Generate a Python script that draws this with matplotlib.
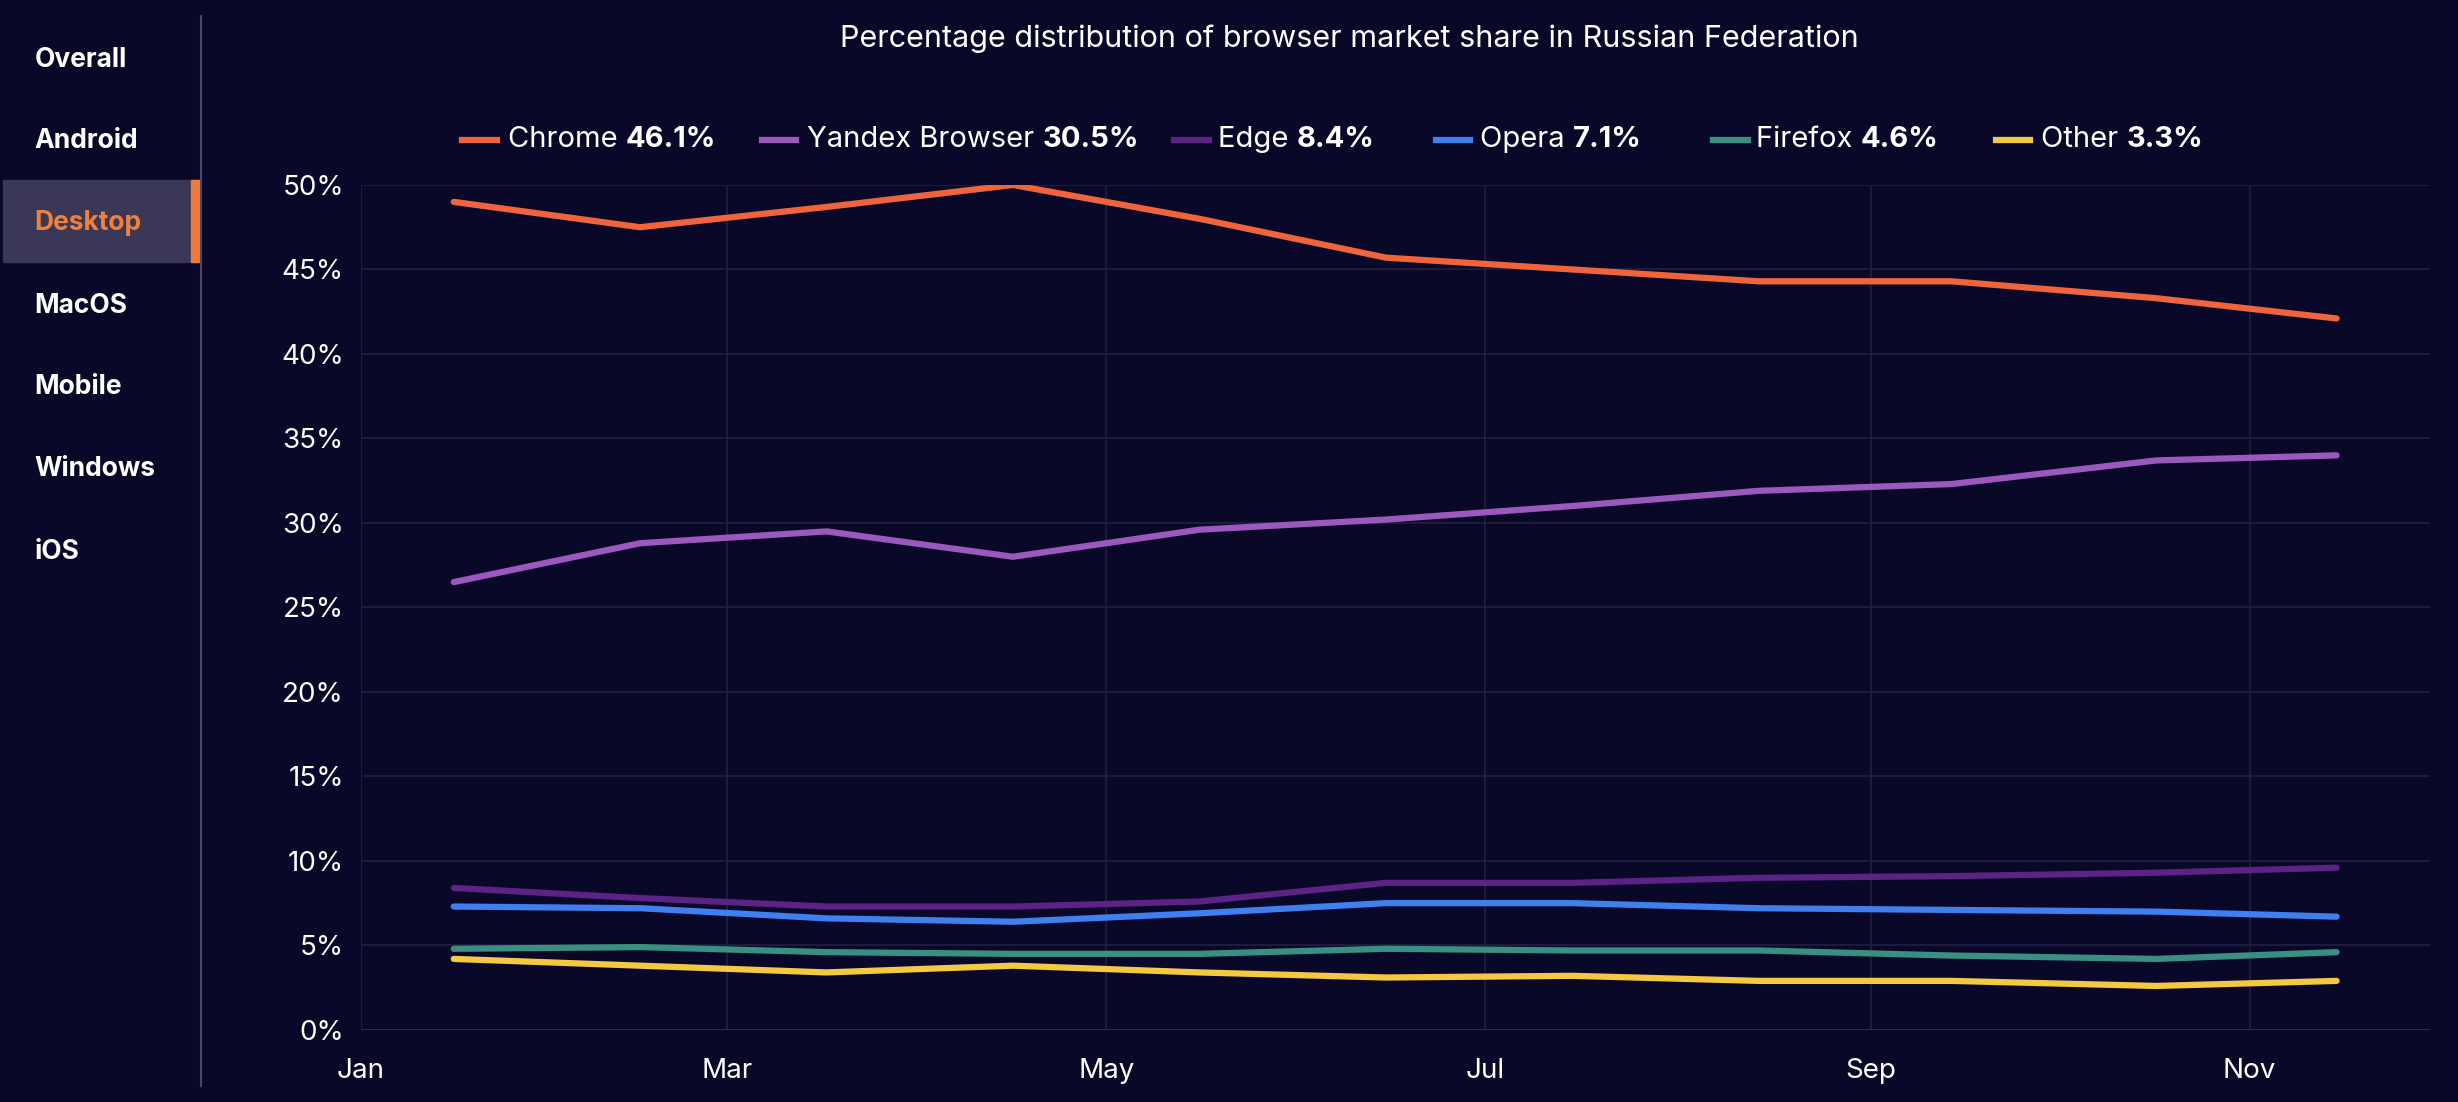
import matplotlib.pyplot as plt
import matplotlib.dates as mdates
from matplotlib.lines import Line2D
from matplotlib.patches import Rectangle
import pandas as pd

plt.rcParams['font.family'] = ['Inter', 'DejaVu Sans']

dates = pd.to_datetime(['2023-01-16', '2023-02-15', '2023-03-17', '2023-04-16', '2023-05-16',
                        '2023-06-15', '2023-07-15', '2023-08-14', '2023-09-14', '2023-10-17',
                        '2023-11-15'])
chrome = [49.0, 47.5, 48.7, 50.0, 48.0, 45.7, 45.0, 44.3, 44.3, 43.3, 42.1]
yandex = [26.5, 28.8, 29.5, 28.0, 29.6, 30.2, 31.0, 31.9, 32.3, 33.7, 34.0]
edge = [8.4, 7.8, 7.3, 7.3, 7.6, 8.7, 8.7, 9.0, 9.1, 9.3, 9.6]
opera = [7.3, 7.2, 6.6, 6.4, 6.9, 7.5, 7.5, 7.2, 7.1, 7.0, 6.7]
firefox = [4.8, 4.9, 4.6, 4.5, 4.5, 4.8, 4.7, 4.7, 4.4, 4.2, 4.6]
other = [4.2, 3.8, 3.4, 3.8, 3.4, 3.1, 3.2, 2.9, 2.9, 2.6, 2.9]

names = ['Chrome', 'Yandex Browser', 'Edge', 'Opera', 'Firefox', 'Other']
shares = ['46.1%', '30.5%', '8.4%', '7.1%', '4.6%', '3.3%']
series = [chrome, yandex, edge, opera, firefox, other]
colors = ['#f0643c', '#9b59c0', '#5b2386', '#3f7ff0', '#3a9080', '#f5c842']
menu = ['Overall', 'Android', 'Desktop', 'MacOS', 'Mobile', 'Windows', 'iOS']

bg = '#0a0828'
fig = plt.figure(figsize=(24.58, 11.02), dpi=100, facecolor=bg)
W, H = 1568, 703
ax = fig.add_axes([230 / W, 1 - 657 / H, 1320 / W, (657 - 118) / H], facecolor=bg)

for s, c in zip(series, colors):
    ax.plot(dates, s, color=c, lw=4.5, solid_capstyle='round')

ax.set_xlim(pd.Timestamp('2023-01-01'), pd.Timestamp('2023-11-30'))
ax.set_ylim(0, 50)
ax.set_yticks(range(0, 51, 5))
ax.set_yticklabels([f'{v}%' for v in range(0, 51, 5)])
ax.xaxis.set_major_locator(mdates.MonthLocator(bymonth=[1, 3, 5, 7, 9, 11]))
ax.xaxis.set_major_formatter(mdates.DateFormatter('%b'))
ax.grid(True, color='#22203f', lw=1.2)
for sp in ax.spines.values():
    sp.set_visible(False)
ax.axhline(0, color='#2e2c4c', lw=1.5)
ax.tick_params(colors='white', labelsize=20, length=0)
ax.tick_params(axis='x', pad=20)
ax.tick_params(axis='y', pad=12)

fig.text(861 / W, 1 - 25 / H, 'Percentage distribution of browser market share in Russian Federation',
         color='white', fontsize=22, ha='center', va='center')

# legend
fig.canvas.draw()
r = fig.canvas.get_renderer()
leg = [(295, 324), (486, 515), (749, 777), (916, 944), (1093, 1120), (1273, 1302)]
y = 1 - 89 / H
for (lx, tx), n, sh, c in zip(leg, names, shares, colors):
    fig.add_artist(Line2D([lx / W, (lx + 22) / W], [y, y], color=c, lw=4.5, transform=fig.transFigure))
    t = fig.text(tx / W, y, n + ' ', color='white', fontsize=21, va='center')
    bb = t.get_window_extent(r)
    fig.text(bb.x1 / fig.bbox.width, y, sh, color='white', fontsize=21, va='center', fontweight='bold')

# sidebar
fig.add_artist(Line2D([128 / W, 128 / W], [1 - 10 / H, 1 - 693 / H], color='#4a4866', lw=1.5,
                      transform=fig.transFigure))
fig.add_artist(Rectangle((2 / W, 1 - 167 / H), 124 / W, 52 / H, color='#3a3856', transform=fig.transFigure))
fig.add_artist(Rectangle((122 / W, 1 - 167 / H), 5 / W, 52 / H, color='#f07a3a', transform=fig.transFigure))
for i, m in enumerate(menu):
    yy = [38, 90, 142, 195, 247, 299, 352][i]
    fig.text(22 / W, 1 - yy / H, m, color='#f0803a' if m == 'Desktop' else 'white',
             fontsize=19, fontweight='bold', va='center')

fig.savefig('out.png', dpi=100, facecolor=bg)
